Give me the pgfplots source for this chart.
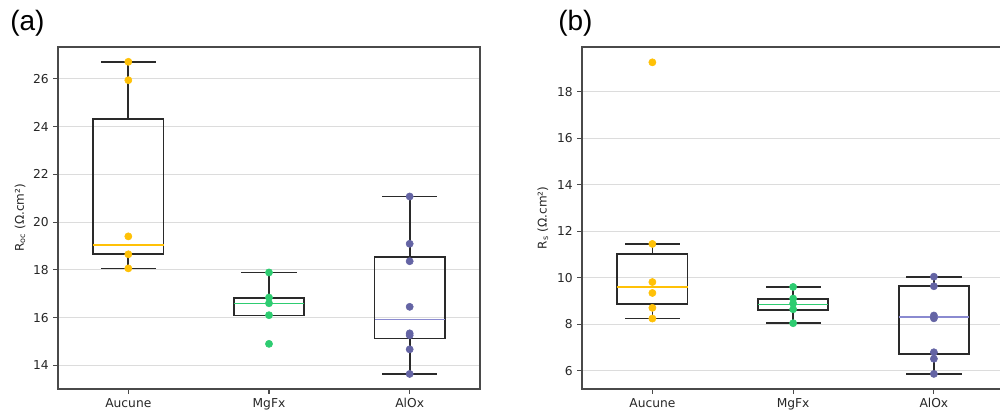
\documentclass[border=0pt]{standalone}
\usepackage{fontspec}
\setmainfont{DejaVu Sans}
\newfontfamily\arialfont{Liberation Sans}
\usepackage{pgfplots}
\pgfplotsset{compat=1.18}
\definecolor{cA}{HTML}{FFC107}
\definecolor{cB}{HTML}{2ECC71}
\definecolor{cC}{HTML}{6464A4}
\definecolor{cCm}{HTML}{8A8AD0}
\definecolor{boxgray}{HTML}{2A2A2A}
\definecolor{framegray}{HTML}{4A4A4A}
\definecolor{gridgray}{HTML}{DCDCDC}
\pgfplotsset{
  myaxis/.style={
    scale only axis, width=316.5pt, height=256.5pt,
    xmin=0.5, xmax=3.5,
    xtick={1,2,3}, xticklabels={Aucune,MgFx,AlOx},
    tick align=outside, tick pos=left, major tick length=3.5pt,
    ymajorgrids, grid style={draw=gridgray, line width=0.7pt},
    axis line style={draw=framegray, line width=0.9pt},
    tick style={draw=framegray, line width=0.8pt},
    every tick label/.append style={font=\fontsize{9.2}{11}\selectfont, text=black!85},
    /pgf/number format/assume math mode=true,
    label style={font=\fontsize{9}{11}\selectfont, text=black!85},
  },
  mybox/.style={draw=boxgray, line width=1.3pt, solid, mark=none, line join=miter, line cap=rect},
  mydots/.style={only marks, mark=*, mark size=2.7pt},
}
% #1 position, #2 lower whisker, #3 lower quartile, #4 median, #5 upper quartile, #6 upper whisker, #7 median colour
\newcommand\bx[7]{%
  \pgfmathsetmacro\xl{#1-0.25}\pgfmathsetmacro\xr{#1+0.25}%
  \pgfmathsetmacro\cl{#1-0.19}\pgfmathsetmacro\cr{#1+0.19}%
  \edef\tmp{%
    \noexpand\addplot[mybox] coordinates {(#1,#2) (#1,#3)};
    \noexpand\addplot[mybox] coordinates {(#1,#5) (#1,#6)};
    \noexpand\addplot[mybox] coordinates {(\cl,#2) (\cr,#2)};
    \noexpand\addplot[mybox] coordinates {(\cl,#6) (\cr,#6)};
    \noexpand\addplot[mybox] coordinates {(\xl,#3) (\xr,#3) (\xr,#5) (\xl,#5) (\xl,#3)};
    \noexpand\addplot[draw=#7, line width=1pt, mark=none] coordinates {(\xl,#4) (\xr,#4)};
  }\tmp}
\begin{document}
\begin{tikzpicture}
% ---------- (a) ----------
\begin{axis}[myaxis, at={(43.5pt,20.25pt)}, anchor=south west,
  ymin=13.01, ymax=27.33, ytick={14,16,18,20,22,24,26},
  ylabel={R\textsubscript{oc} (Ω.cm²)},
  y label style={at={(axis description cs:-0.09,0.5)}, anchor=center}]
\bx{1}{18.06}{18.65}{19.04}{24.31}{26.71}{cA}
\bx{2}{16.09}{16.09}{16.58}{16.83}{17.89}{cB}
\bx{3}{13.64}{15.12}{15.91}{18.53}{21.07}{cCm}
\addplot[mydots, color=cA] coordinates {(1,26.71) (1,25.94) (1,19.40) (1,18.65) (1,18.06)};
\addplot[mydots, color=cB] coordinates {(2,17.89) (2,16.84) (2,16.60) (2,16.10) (2,14.90)};
\addplot[mydots, color=cC] coordinates {(3,21.07) (3,19.09) (3,18.36) (3,16.45) (3,15.34) (3,15.26) (3,14.67) (3,13.64)};
\end{axis}
% ---------- (b) ----------
\begin{axis}[myaxis, width=316.7pt, at={(436.5pt,20.25pt)}, anchor=south west,
  ymin=5.22, ymax=19.93, ytick={6,8,10,12,14,16,18},
  ylabel={R\textsubscript{s} (Ω.cm²)},
  y label style={at={(axis description cs:-0.0924,0.5)}, anchor=center}]
\bx{1}{8.25}{8.86}{9.61}{11.04}{11.46}{cA}
\bx{2}{8.06}{8.63}{8.86}{9.09}{9.61}{cB}
\bx{3}{5.87}{6.72}{8.31}{9.64}{10.05}{cCm}
\addplot[mydots, color=cA] coordinates {(1,19.27) (1,11.46) (1,9.82) (1,9.35) (1,8.71) (1,8.25)};
\addplot[mydots, color=cB] coordinates {(2,9.61) (2,9.11) (2,8.90) (2,8.65) (2,8.05)};
\addplot[mydots, color=cC] coordinates {(3,10.05) (3,9.64) (3,8.38) (3,8.26) (3,6.80) (3,6.52) (3,5.87)};
\end{axis}
\node[anchor=base west, inner sep=0pt, font=\arialfont\fontsize{21}{24}\selectfont] at (7.5pt,288.75pt) {(a)};
\node[anchor=base west, inner sep=0pt, font=\arialfont\fontsize{21}{24}\selectfont] at (418.5pt,288.75pt) {(b)};
\pgfresetboundingbox
\path[use as bounding box] (0pt,0pt) rectangle (750pt,312pt);
\end{tikzpicture}
\end{document}
